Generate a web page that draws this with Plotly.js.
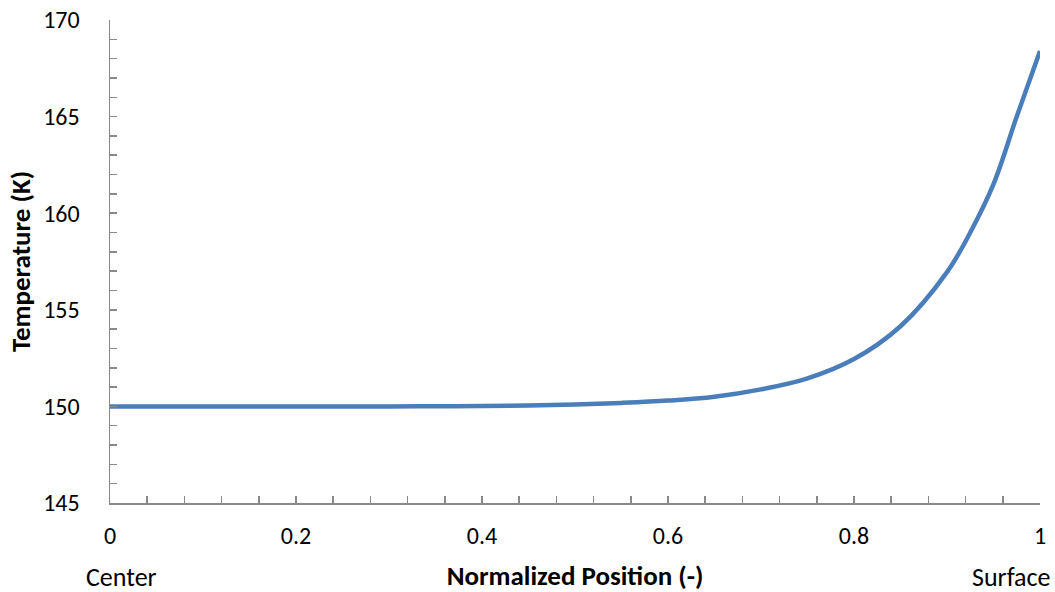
<!DOCTYPE html>
<html>
<head>
<meta charset="utf-8">
<script src="https://cdn.plot.ly/plotly-3.0.1.min.js"></script>
<style>html,body{margin:0;padding:0;background:#fff}#chart{width:1055px;height:592px}</style>
</head>
<body>
<div id="chart"></div>
<script>
const position = [0, 0.05, 0.1, 0.15, 0.2, 0.25, 0.3, 0.35, 0.4, 0.45, 0.5, 0.55, 0.6, 0.65, 0.7, 0.75, 0.8, 0.85, 0.9, 0.925, 0.95, 0.975, 1.0];
const temperature = [150.0, 150.0, 150.0, 150.0, 150.0, 150.0, 150.0, 150.01, 150.02, 150.05, 150.1, 150.18, 150.3, 150.5, 150.88, 151.45, 152.45, 154.15, 156.95, 159.0, 161.5, 165.0, 168.4];
const xTickVals = [0, 0.2, 0.4, 0.6, 0.8, 1];
const xTickText = ['0', '0.2', '0.4', '0.6', '0.8', '1'];
const yTickVals = [145, 150, 155, 160, 165, 170];

const font = 'Carlito, Lato, "Open Sans", sans-serif';
const axisColor = '#898989';

const trace = {
  x: position, y: temperature, type: 'scatter', mode: 'lines',
  line: {color: '#4a7ebb', width: 4.5, shape: 'spline', smoothing: 1},
  hoverinfo: 'skip'
};

const layout = {
  width: 1055, height: 592,
  margin: {l: 110, r: 15, t: 20, b: 89},
  paper_bgcolor: '#fff', plot_bgcolor: '#fff',
  showlegend: false,
  font: {family: font, size: 24, color: '#000'},
  xaxis: {
    range: [0, 1], tickvals: xTickVals, ticktext: xTickText,
    showgrid: false, zeroline: false,
    showline: true, linecolor: axisColor, linewidth: 1.5,
    ticks: 'inside', ticklen: 7, tickcolor: axisColor, tickwidth: 1.5,
    minor: {dtick: 0.04, tick0: 0, ticks: 'inside', ticklen: 7, tickcolor: axisColor, tickwidth: 1.5, showgrid: false},
    ticklabelstandoff: 11,
    tickfont: {family: font, size: 24, color: '#000'},
    title: {text: '<b>Normalized Position (-)</b>', font: {family: font, size: 27, color: '#000'}, standoff: 18}
  },
  yaxis: {
    range: [145, 170], tickvals: yTickVals,
    showgrid: false, zeroline: false,
    showline: true, linecolor: axisColor, linewidth: 1.5,
    ticks: 'inside', ticklen: 7, tickcolor: axisColor, tickwidth: 1.5,
    minor: {dtick: 1, tick0: 145, ticks: 'inside', ticklen: 7, tickcolor: axisColor, tickwidth: 1.5, showgrid: false},
    ticklabelstandoff: 24,
    tickfont: {family: font, size: 24, color: '#000'},
    title: {text: '<b>Temperature (K)</b>', font: {family: font, size: 27, color: '#000'}, standoff: 5}
  },
  annotations: [
    {text: 'Center', x: 0, y: 0, xref: 'x', yref: 'paper', xanchor: 'left', yanchor: 'top', xshift: -26, yshift: -56, showarrow: false, font: {family: font, size: 26, color: '#000'}},
    {text: 'Surface', x: 1, y: 0, xref: 'x', yref: 'paper', xanchor: 'right', yanchor: 'top', xshift: 12, yshift: -56, showarrow: false, font: {family: font, size: 26, color: '#000'}}
  ]
};

Plotly.newPlot('chart', [trace], layout, {displayModeBar: false, staticPlot: true});
</script>
</body>
</html>
